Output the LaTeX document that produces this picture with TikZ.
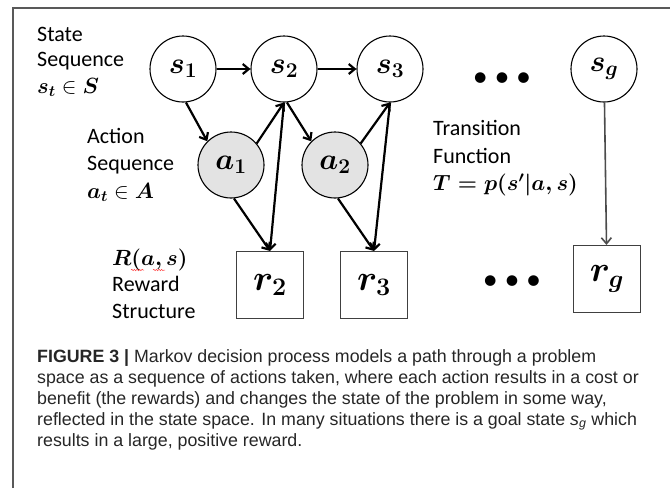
\documentclass[tikz,border=0pt]{standalone}
\usepackage{fix-cm}
\usepackage{amsmath,amssymb}
\usepackage{fontspec}
\setmainfont{Carlito}
\newfontfamily\captionfont{Liberation Sans}
\usetikzlibrary{arrows.meta,decorations.pathmorphing}

\begin{document}
\begin{tikzpicture}[x=1pt,y=-1pt,
    statenode/.style={circle,draw,line width=1.1pt,minimum size=66pt,inner sep=0pt,
      font=\fontsize{30}{34}\selectfont},
    actionnode/.style={statenode,fill=black!11},
    rewardnode/.style={rectangle,draw=black!75,line width=1.1pt,minimum size=67pt,inner sep=0pt,
      font=\fontsize{36}{40}\selectfont},
    link/.style={line width=2.2pt,-{Straight Barb[length=6pt,width=10pt]}},
    labeltext/.style={anchor=base west,inner sep=0pt,font=\fontsize{22}{26}\selectfont},
    squiggle/.style={red!75,line width=0.5pt,decorate,
      decoration={snake,amplitude=0.7pt,segment length=2.6pt}}]
    \useasboundingbox (0,0) rectangle (670,488);
    \draw[black!65,line width=1.3pt] (13,488) -- (13,8) -- (670,8);

    % states, actions, rewards
    \node[statenode] (s1) at (183,69) {$\boldsymbol{s_1}$};
    \node[statenode] (s2) at (284,69) {$\boldsymbol{s_2}$};
    \node[statenode] (s3) at (390,69) {$\boldsymbol{s_3}$};
    \node[statenode] (sg) at (604,69) {$\boldsymbol{s_g}$};
    \node[actionnode] (a1) at (231,165) {$\boldsymbol{a_1}$};
    \node[actionnode] (a2) at (335,165) {$\boldsymbol{a_2}$};
    \node[rewardnode] (r2) at (270,285) {$\boldsymbol{r_2}$};
    \node[rewardnode] (r3) at (374,285) {$\boldsymbol{r_3}$};
    \node[rewardnode] (rg) at (607,279) {$\boldsymbol{r_g}$};
    \node[font=\fontsize{30}{30}\selectfont] (dotstop) at (502,80) {• • •};
    \node[font=\fontsize{30}{30}\selectfont] (dotsbot) at (512,283) {• • •};

    \draw[link] (s1) -- (s2);
    \draw[link] (s2) -- (s3);
    \foreach \s/\a/\n/\r in {s1/a1/s2/r2,s2/a2/s3/r3}{%
      \draw[link] (\s.-85) -- (\a.135);
      \draw[link] (\a.40) -- (\n.south);
      \draw[link] (\a.-85) -- (\r.north);
      \draw[link] (\n.south) -- (\r.north);
    }
    \draw[link,line width=1.6pt,black!70] (sg) -- (rg);

    % labels
    \node[labeltext] (statel1) at (37,41) {State};
    \node[labeltext] (statel2) at (37,66) {Sequence};
    \node[labeltext] (statel3) at (37,93) {$\boldsymbol{s_t}\in\boldsymbol{S}$};
    \node[labeltext] (actl1) at (87,143) {Action};
    \node[labeltext] (actl2) at (87,170) {Sequence};
    \node[labeltext] (actl3) at (87,198) {$\boldsymbol{a_t}\in\boldsymbol{A}$};
    \node[labeltext] (transl1) at (433,135) {Transition};
    \node[labeltext] (transl2) at (433,163) {Function};
    \node[labeltext] (transl3) at (433,190) {$\boldsymbol{T=p(s'|a,s)}$};
    \node[labeltext] (rewl1) at (112,265) {$\boldsymbol{R(a,s)}$};
    \node[labeltext] (rewl2) at (112,291) {Reward};
    \node[labeltext] (rewl3) at (112,318) {Structure};
    \draw[squiggle] (131,270) -- (144,270);
    \draw[squiggle] (153,270) -- (165,270);

    % caption
    \node[anchor=north west,inner sep=0pt,align=left,text=black!85,
      font=\captionfont\fontsize{17.8}{21}\selectfont] (caption) at (37,349)
      {\textbf{FIGURE 3 |} Markov decision process models a path through a problem\\
       space as a sequence of actions taken, where each action results in a cost or\\
       benefit (the rewards) and changes the state of the problem in some way,\\
       reflected in the state space. In many situations there is a goal state \textit{s}\textsubscript{\textit{g}} which\\
       results in a large, positive reward.};
\end{tikzpicture}
\end{document}
